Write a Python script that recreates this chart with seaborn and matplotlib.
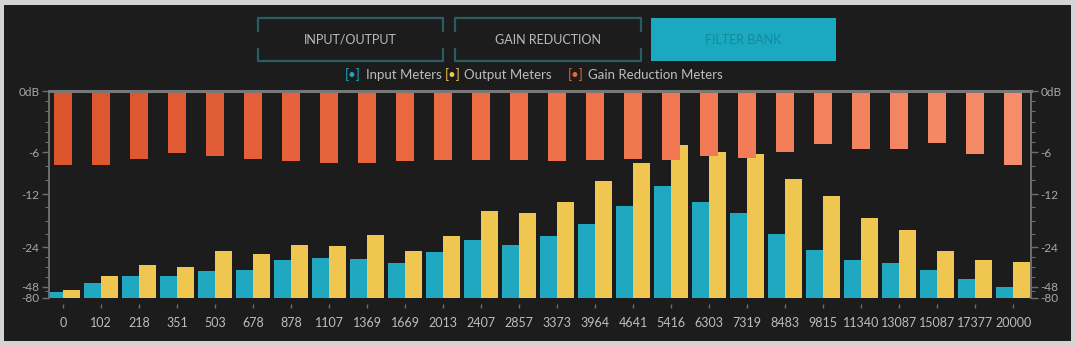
import matplotlib
matplotlib.use("Agg")
import matplotlib.pyplot as plt
from matplotlib.lines import Line2D
from matplotlib.patches import Rectangle
from matplotlib.ticker import FixedLocator
import numpy as np
import pandas as pd
import seaborn as sns

# filter bank centre frequencies (Hz)
bands = ["0", "102", "218", "351", "503", "678", "878", "1107", "1369", "1669",
         "2013", "2407", "2857", "3373", "3964", "4641", "5416", "6303", "7319",
         "8483", "9815", "11340", "13087", "15087", "17377", "20000"]

# meter readings in dB
input_db = [-63.9, -45.9, -41.4, -41.4, -38.4, -37.8, -31.7, -30.2, -31.0, -33.7,
            -26.6, -22.3, -23.4, -21.4, -18.7, -14.7, -10.8, -13.8, -16.3,
            -21.0, -25.5, -31.8, -33.3, -37.8, -43.5, -48.0]
output_db = [-57.3, -41.4, -34.9, -36.1, -26.0, -28.2, -23.5, -23.7, -21.3, -26.0,
             -21.4, -15.7, -16.2, -13.8, -10.2, -7.6, -5.3, -6.0, -6.3,
             -9.8, -12.4, -17.3, -20.1, -26.1, -31.8, -33.1]
gain_reduction_db = [-7.8, -7.8, -7.0, -6.1, -6.6, -7.0, -7.3, -7.5, -7.6, -7.3,
                     -7.1, -7.2, -7.2, -7.3, -7.1, -7.0, -7.1, -6.6, -6.8,
                     -6.0, -5.2, -5.7, -5.7, -5.1, -6.3, -7.8]

y_ticks = [0, -6, -12, -24, -48, -80]
y_tick_labels = ["0dB", "-6", "-12", "-24", "-48", "-80"]
y_minor_ticks = [-1, -2, -3, -4, -5, -8, -10, -15, -18, -21, -30, -36, -42, -60]

# the meter scale is not linear in dB: where each level sits (0 = floor, 1 = top)
scale_db = [-80, -48, -24, -12, -6, 0]
scale_pos = [0.0, 0.055, 0.244, 0.502, 0.705, 1.0]

FLOOR = -80
W, H = 1076, 345
PANEL = "#1c1c1c"
FRAME = "#d4d4d4"
INPUT_C = "#21a8c1"
OUTPUT_C = "#efc650"
TEAL_EDGE = "#2a5c63"
TEXT_C = "#bdbdbd"
AXIS_C = "#6e6e6e"


def fx(x):
    return x / W


def fy(y):
    return 1 - y / H


def to_meter(v):
    return np.interp(v, scale_db, scale_pos)


def from_meter(p):
    return np.interp(p, scale_pos, scale_db)


def draw_button(x0, x1, y0, y1, label, active):
    if active:
        fig.patches.append(Rectangle((fx(x0), fy(y1)), fx(x1 - x0), (y1 - y0) / H,
                                     transform=fig.transFigure, facecolor="#1ba9c2",
                                     edgecolor="none", zorder=1))
        fig.text(fx((x0 + x1) / 2), fy((y0 + y1) / 2), label, color="#15899c",
                 fontsize=9, ha="center", va="center")
        return
    kw = dict(transform=fig.transFigure, color=TEAL_EDGE, lw=1.6)
    for yy in (y0, y1):
        fig.lines.append(Line2D([fx(x0), fx(x1)], [fy(yy), fy(yy)], **kw))
    for xx in (x0, x1):
        fig.lines.append(Line2D([fx(xx), fx(xx)], [fy(y0), fy(y0 + 13)], **kw))
        fig.lines.append(Line2D([fx(xx), fx(xx)], [fy(y1 - 12), fy(y1)], **kw))
    fig.text(fx((x0 + x1) / 2), fy((y0 + y1) / 2), label, color=TEXT_C,
             fontsize=9, ha="center", va="center")


sns.set_theme(style="dark")
plt.rcParams["font.family"] = ["Lato", "DejaVu Sans"]

fig = plt.figure(figsize=(W / 100, H / 100), dpi=100, facecolor=FRAME)
fig.patches.append(Rectangle((fx(4), fy(341)), fx(1071 - 4), (341 - 5) / H,
                             transform=fig.transFigure, facecolor=PANEL,
                             edgecolor="none", zorder=-1))

ax = fig.add_axes([fx(49), fy(298), fx(1031 - 49), (298 - 91) / H])
ax.set_facecolor(PANEL)

# input/output meters rise from the floor
io_df = pd.DataFrame({
    "band": bands * 2,
    "meter": ["Input"] * len(bands) + ["Output"] * len(bands),
    "level": input_db + output_db,
})
io_df["height"] = io_df["level"] - FLOOR
sns.barplot(data=io_df, x="band", y="height", hue="meter",
            palette=[INPUT_C, OUTPUT_C], width=0.9, saturation=1,
            errorbar=None, legend=False, linewidth=0, bottom=FLOOR, ax=ax)

# gain reduction hangs from 0 dB, drawn on top
gr_df = pd.DataFrame({"band": bands, "gr": gain_reduction_db})
gr_palette = sns.blend_palette(["#db552d", "#ef7048", "#f58c6a"], n_colors=len(bands))
sns.barplot(data=gr_df, x="band", y="gr", hue="band", palette=gr_palette,
            width=0.46, saturation=1, errorbar=None, legend=False,
            linewidth=0, ax=ax)

ax.set_yscale("function", functions=(to_meter, from_meter))
ax.set_ylim(FLOOR, 0)
ax.set_xlim(-0.37, len(bands) - 0.53)
ax.set_yticks(y_ticks)
ax.set_yticklabels(y_tick_labels)
ax.yaxis.set_minor_locator(FixedLocator(y_minor_ticks))
ax.set_xlabel("")
ax.set_ylabel("")
ax.grid(False)

for side in ("left", "right"):
    ax.spines[side].set_color(AXIS_C)
    ax.spines[side].set_linewidth(1.4)
ax.spines["top"].set_color("#787878")
ax.spines["top"].set_linewidth(2.2)
ax.spines["bottom"].set_visible(False)
ax.spines["bottom"].set_position(("outward", 4))

ax.tick_params(axis="y", which="both", left=True, right=True, labelleft=True,
               labelright=True, direction="out", colors=AXIS_C)
ax.tick_params(axis="y", which="major", length=5, width=1, labelsize=8.5,
               labelcolor="#a8a8a8", pad=2)
ax.tick_params(axis="y", which="minor", length=3, width=0.8)
ax.tick_params(axis="x", bottom=True, length=3, width=1, colors=AXIS_C,
               labelcolor=TEXT_C, labelsize=9, pad=7)

# tab buttons
draw_button(258, 443, 18, 61, "INPUT/OUTPUT", False)
draw_button(455, 641, 18, 61, "GAIN REDUCTION", False)
draw_button(651, 836, 18, 61, "FILTER BANK", True)

# legend row
legend_items = [(353, 366, "Input Meters", INPUT_C),
                (453, 464, "Output Meters", OUTPUT_C),
                (576, 588, "Gain Reduction Meters", "#e8663c")]
for bx, tx, label, col in legend_items:
    fig.text(fx(bx), fy(75), "[•]", color=col, fontsize=9.5, ha="center", va="center")
    fig.text(fx(tx), fy(75), label, color=TEXT_C, fontsize=9.5, ha="left", va="center")

fig.savefig("out.png", dpi=100, facecolor=FRAME)
